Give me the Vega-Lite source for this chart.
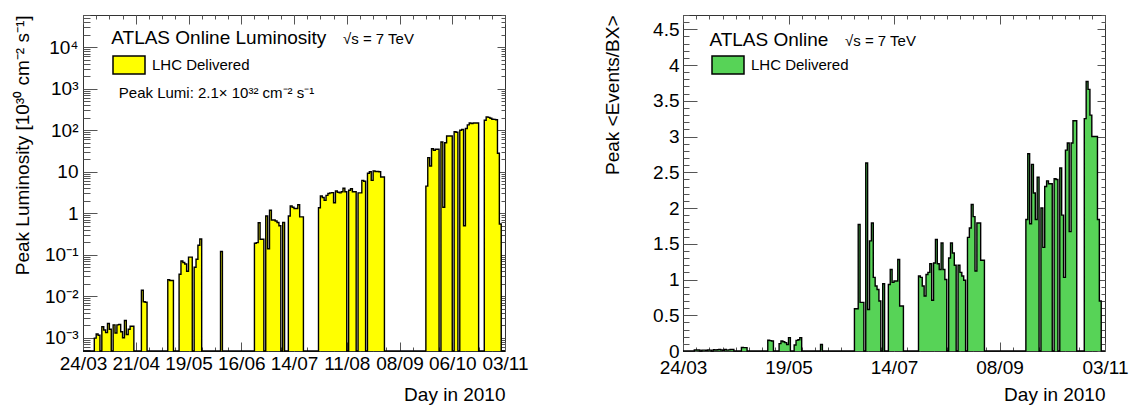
{
  "$schema": "https://vega.github.io/schema/vega-lite/v6.json",
  "padding": {"left": 13, "top": 14, "right": 0, "bottom": 0},
  "background": "white",
  "config": {
    "view": {"stroke": "#333", "strokeWidth": 1},
    "font": "Liberation Sans",
    "axis": {"domain": false, "grid": false, "tickColor": "#555", "tickWidth": 1, "labelFont": "Liberation Sans", "labelFontSize": 19, "labelColor": "#000", "titleFont": "Liberation Sans", "titleFontSize": 19, "titleFontWeight": "normal", "titleColor": "#000", "labelFlush": false, "labelOverlap": false}
  },
  "resolve": {"scale": {"fill": "independent"}, "legend": {"fill": "independent"}},
  "spacing": 74,
  "datasets": {
    "days": [
      {"date": "2010-03-24", "lumi": 0, "mu": 0},
      {"date": "2010-03-30", "lumi": 0.00098, "mu": 0.014},
      {"date": "2010-03-31", "lumi": 0.00123, "mu": 0.015},
      {"date": "2010-04-01", "lumi": 0.00115, "mu": 0.014},
      {"date": "2010-04-02", "lumi": 0, "mu": 0},
      {"date": "2010-04-03", "lumi": 0.00185, "mu": 0.012},
      {"date": "2010-04-04", "lumi": 0.00154, "mu": 0.012},
      {"date": "2010-04-05", "lumi": 0.00133, "mu": 0.01},
      {"date": "2010-04-06", "lumi": 0.0022, "mu": 0.014},
      {"date": "2010-04-07", "lumi": 0.0016, "mu": 0.012},
      {"date": "2010-04-08", "lumi": 0, "mu": 0},
      {"date": "2010-04-09", "lumi": 0.00205, "mu": 0.018},
      {"date": "2010-04-10", "lumi": 0.0013, "mu": 0.012},
      {"date": "2010-04-11", "lumi": 0.00205, "mu": 0.018},
      {"date": "2010-04-12", "lumi": 0.0021, "mu": 0.02},
      {"date": "2010-04-13", "lumi": 0.0014, "mu": 0.014},
      {"date": "2010-04-14", "lumi": 0.001, "mu": 0.01},
      {"date": "2010-04-15", "lumi": 0.0026, "mu": 0.022},
      {"date": "2010-04-16", "lumi": 0.0012, "mu": 0.012},
      {"date": "2010-04-17", "lumi": 0.0016, "mu": 0.016},
      {"date": "2010-04-18", "lumi": 0.0019, "mu": 0.02},
      {"date": "2010-04-19", "lumi": 0.0019, "mu": 0.02},
      {"date": "2010-04-20", "lumi": 0, "mu": 0},
      {"date": "2010-04-24", "lumi": 0.014, "mu": 0.05},
      {"date": "2010-04-25", "lumi": 0.0074, "mu": 0.047},
      {"date": "2010-04-26", "lumi": 0.0072, "mu": 0.047},
      {"date": "2010-04-27", "lumi": 0, "mu": 0},
      {"date": "2010-05-08", "lumi": 0.025, "mu": 0.15},
      {"date": "2010-05-09", "lumi": 0.024, "mu": 0.145},
      {"date": "2010-05-10", "lumi": 0.024, "mu": 0.14},
      {"date": "2010-05-11", "lumi": 0, "mu": 0},
      {"date": "2010-05-14", "lumi": 0.034, "mu": 0.103},
      {"date": "2010-05-15", "lumi": 0.071, "mu": 0.14},
      {"date": "2010-05-16", "lumi": 0.065, "mu": 0.13},
      {"date": "2010-05-17", "lumi": 0.06, "mu": 0.117},
      {"date": "2010-05-18", "lumi": 0.04, "mu": 0.09},
      {"date": "2010-05-19", "lumi": 0.088, "mu": 0.187},
      {"date": "2010-05-20", "lumi": 0.088, "mu": 0},
      {"date": "2010-05-21", "lumi": 0, "mu": 0},
      {"date": "2010-05-22", "lumi": 0.05, "mu": 0.084},
      {"date": "2010-05-23", "lumi": 0.078, "mu": 0.149},
      {"date": "2010-05-24", "lumi": 0.17, "mu": 0.158},
      {"date": "2010-05-25", "lumi": 0.24, "mu": 0.187},
      {"date": "2010-05-26", "lumi": 0, "mu": 0},
      {"date": "2010-06-05", "lumi": 0.12, "mu": 0.09},
      {"date": "2010-06-06", "lumi": 0, "mu": 0},
      {"date": "2010-06-23", "lumi": 0.19, "mu": 0.59},
      {"date": "2010-06-24", "lumi": 0.196, "mu": 0.59},
      {"date": "2010-06-25", "lumi": 0.59, "mu": 1.77},
      {"date": "2010-06-26", "lumi": 0.236, "mu": 0.68},
      {"date": "2010-06-27", "lumi": 0.236, "mu": 0.68},
      {"date": "2010-06-28", "lumi": 0, "mu": 0},
      {"date": "2010-06-29", "lumi": 0.86, "mu": 2.63},
      {"date": "2010-06-30", "lumi": 0.14, "mu": 0.58},
      {"date": "2010-07-01", "lumi": 1.18, "mu": 1.54},
      {"date": "2010-07-02", "lumi": 0.69, "mu": 1.79},
      {"date": "2010-07-03", "lumi": 0.69, "mu": 1.03},
      {"date": "2010-07-04", "lumi": 0.65, "mu": 0.91},
      {"date": "2010-07-05", "lumi": 0.6, "mu": 0.86},
      {"date": "2010-07-06", "lumi": 0.5, "mu": 0.7},
      {"date": "2010-07-07", "lumi": 0, "mu": 0},
      {"date": "2010-07-08", "lumi": 0.6, "mu": 0.94},
      {"date": "2010-07-09", "lumi": 0, "mu": 0},
      {"date": "2010-07-11", "lumi": 0.86, "mu": 0.93},
      {"date": "2010-07-12", "lumi": 1.5, "mu": 1.14},
      {"date": "2010-07-13", "lumi": 1.4, "mu": 0.96},
      {"date": "2010-07-14", "lumi": 1.3, "mu": 0.98},
      {"date": "2010-07-15", "lumi": 1.3, "mu": 0.98},
      {"date": "2010-07-16", "lumi": 1.6, "mu": 1.28},
      {"date": "2010-07-17", "lumi": 0.82, "mu": 0.63},
      {"date": "2010-07-18", "lumi": 0.82, "mu": 0.63},
      {"date": "2010-07-19", "lumi": 0, "mu": 0},
      {"date": "2010-07-27", "lumi": 1.36, "mu": 1.05},
      {"date": "2010-07-28", "lumi": 2.6, "mu": 1.03},
      {"date": "2010-07-29", "lumi": 2.4, "mu": 0.91},
      {"date": "2010-07-30", "lumi": 2.05, "mu": 0.77},
      {"date": "2010-07-31", "lumi": 2.7, "mu": 1.07},
      {"date": "2010-08-01", "lumi": 3.0, "mu": 1.1},
      {"date": "2010-08-02", "lumi": 3.1, "mu": 1.22},
      {"date": "2010-08-03", "lumi": 3.14, "mu": 0.71},
      {"date": "2010-08-04", "lumi": 1.8, "mu": 1.23},
      {"date": "2010-08-05", "lumi": 3.45, "mu": 1.56},
      {"date": "2010-08-06", "lumi": 3.2, "mu": 1.22},
      {"date": "2010-08-07", "lumi": 3.1, "mu": 1.14},
      {"date": "2010-08-08", "lumi": 3.3, "mu": 1.51},
      {"date": "2010-08-09", "lumi": 4.0, "mu": 1.14},
      {"date": "2010-08-10", "lumi": 3.3, "mu": 1.0},
      {"date": "2010-08-11", "lumi": 0, "mu": 0},
      {"date": "2010-08-12", "lumi": 3.6, "mu": 1.3},
      {"date": "2010-08-13", "lumi": 3.9, "mu": 1.51},
      {"date": "2010-08-14", "lumi": 3.3, "mu": 1.37},
      {"date": "2010-08-15", "lumi": 3.3, "mu": 1.2},
      {"date": "2010-08-16", "lumi": 0, "mu": 0},
      {"date": "2010-08-17", "lumi": 3.1, "mu": 1.2},
      {"date": "2010-08-18", "lumi": 3.1, "mu": 1.1},
      {"date": "2010-08-19", "lumi": 6.2, "mu": 1.05},
      {"date": "2010-08-20", "lumi": 5.9, "mu": 0.99},
      {"date": "2010-08-21", "lumi": 0, "mu": 0},
      {"date": "2010-08-22", "lumi": 9.2, "mu": 1.59},
      {"date": "2010-08-23", "lumi": 10, "mu": 1.72},
      {"date": "2010-08-24", "lumi": 6.2, "mu": 2.05},
      {"date": "2010-08-25", "lumi": 10.5, "mu": 1.88},
      {"date": "2010-08-26", "lumi": 10.2, "mu": 1.12},
      {"date": "2010-08-27", "lumi": 10.2, "mu": 1.79},
      {"date": "2010-08-28", "lumi": 10, "mu": 1.79},
      {"date": "2010-08-29", "lumi": 7.5, "mu": 1.27},
      {"date": "2010-08-30", "lumi": 7.5, "mu": 1.27},
      {"date": "2010-08-31", "lumi": 0, "mu": 0},
      {"date": "2010-09-22", "lumi": 4.5, "mu": 1.84},
      {"date": "2010-09-23", "lumi": 21.9, "mu": 2.76},
      {"date": "2010-09-24", "lumi": 13.8, "mu": 1.78},
      {"date": "2010-09-25", "lumi": 36, "mu": 2.61},
      {"date": "2010-09-26", "lumi": 33, "mu": 2.21},
      {"date": "2010-09-27", "lumi": 35, "mu": 1.84},
      {"date": "2010-09-28", "lumi": 35, "mu": 2.43},
      {"date": "2010-09-29", "lumi": 0, "mu": 0},
      {"date": "2010-09-30", "lumi": 52, "mu": 2.0},
      {"date": "2010-10-01", "lumi": 1.4, "mu": 1.45},
      {"date": "2010-10-02", "lumi": 50, "mu": 2.3},
      {"date": "2010-10-03", "lumi": 73, "mu": 2.38},
      {"date": "2010-10-04", "lumi": 73, "mu": 2.34},
      {"date": "2010-10-05", "lumi": 73, "mu": 2.34},
      {"date": "2010-10-06", "lumi": 0, "mu": 0},
      {"date": "2010-10-07", "lumi": 92, "mu": 2.41},
      {"date": "2010-10-08", "lumi": 90, "mu": 2.4},
      {"date": "2010-10-09", "lumi": 0, "mu": 0},
      {"date": "2010-10-10", "lumi": 100, "mu": 2.56},
      {"date": "2010-10-11", "lumi": 105, "mu": 1.9},
      {"date": "2010-10-12", "lumi": 0.5, "mu": 1.03},
      {"date": "2010-10-13", "lumi": 110, "mu": 2.81},
      {"date": "2010-10-14", "lumi": 135, "mu": 2.91},
      {"date": "2010-10-15", "lumi": 150, "mu": 1.67},
      {"date": "2010-10-16", "lumi": 145, "mu": 2.91},
      {"date": "2010-10-17", "lumi": 150, "mu": 3.22},
      {"date": "2010-10-18", "lumi": 150, "mu": 3.22},
      {"date": "2010-10-19", "lumi": 150, "mu": 0},
      {"date": "2010-10-20", "lumi": 0, "mu": 0},
      {"date": "2010-10-23", "lumi": 175, "mu": 3.25},
      {"date": "2010-10-24", "lumi": 210, "mu": 3.77},
      {"date": "2010-10-25", "lumi": 205, "mu": 3.66},
      {"date": "2010-10-26", "lumi": 195, "mu": 3.3},
      {"date": "2010-10-27", "lumi": 185, "mu": 3.0},
      {"date": "2010-10-28", "lumi": 183, "mu": 3.0},
      {"date": "2010-10-29", "lumi": 180, "mu": 3.0},
      {"date": "2010-10-30", "lumi": 28, "mu": 1.84},
      {"date": "2010-10-31", "lumi": 0.55, "mu": 0.7},
      {"date": "2010-11-01", "lumi": 0, "mu": 0},
      {"date": "2010-11-03", "lumi": 0, "mu": 0}
    ]
  },
  "hconcat": [
    {
      "width": 422,
      "height": 336,
      "data": {"name": "days"},
      "resolve": {"axis": {"x": "independent", "y": "independent"}},
      "layer": [
        {
          "mark": {"type": "area", "interpolate": "step-after"},
          "encoding": {
            "x": {"field": "date", "type": "temporal",
              "scale": {"type": "utc", "nice": false, "domain": [{"year": 2010, "month": 3, "date": 24, "utc": true}, {"year": 2010, "month": 11, "date": 3, "utc": true}]},
              "axis": {"orient": "bottom", "format": "%d/%m", "tickSize": -9, "labelPadding": 12, "title": "Day in 2010", "titleAnchor": "end", "titlePadding": 12,
                "values": [{"year": 2010, "month": 3, "date": 24, "utc": true}, {"year": 2010, "month": 4, "date": 21, "utc": true}, {"year": 2010, "month": 5, "date": 19, "utc": true}, {"year": 2010, "month": 6, "date": 16, "utc": true}, {"year": 2010, "month": 7, "date": 14, "utc": true}, {"year": 2010, "month": 8, "date": 11, "utc": true}, {"year": 2010, "month": 9, "date": 8, "utc": true}, {"year": 2010, "month": 10, "date": 6, "utc": true}, {"year": 2010, "month": 11, "date": 3, "utc": true}]}},
            "y": {"field": "lumi", "type": "quantitative",
              "scale": {"type": "log", "domain": [0.00048, 60000], "clamp": true, "nice": false},
              "axis": {"orient": "left", "tickSize": -14, "labelPadding": 19, "title": "Peak Luminosity [10³⁰ cm⁻² s⁻¹]", "titleAnchor": "end", "titlePadding": 12,
                "values": [0.001, 0.01, 0.1, 1, 10, 100, 1000, 10000],
                "labelExpr": "datum.value >= 9999 ? '10⁴' : datum.value >= 999 ? '10³' : datum.value >= 99 ? '10²' : datum.value >= 9 ? '10' : datum.value >= 0.9 ? '1' : datum.value >= 0.09 ? '10⁻¹' : datum.value >= 0.009 ? '10⁻²' : '10⁻³'"}},
            "fill": {"datum": "LHC Delivered", "type": "nominal", "scale": {"range": ["#ffff00"]},
              "legend": {"orient": "none", "legendX": 29, "legendY": 33, "title": null, "symbolType": "M-1,-0.5625H1V0.5625H-1Z", "symbolSize": 1024, "symbolStrokeColor": "#000", "symbolStrokeWidth": 1.5, "symbolOpacity": 1, "labelFont": "Liberation Sans", "labelFontSize": 15, "labelColor": "#000", "labelOffset": 6}}
          }
        },
        {
          "mark": {"type": "line", "interpolate": "step-after", "color": "#000", "strokeWidth": 1.4},
          "encoding": {
            "x": {"field": "date", "type": "temporal",
              "axis": {"orient": "top", "labels": false, "title": null, "tickSize": -9,
                "values": [{"year": 2010, "month": 3, "date": 24, "utc": true}, {"year": 2010, "month": 4, "date": 21, "utc": true}, {"year": 2010, "month": 5, "date": 19, "utc": true}, {"year": 2010, "month": 6, "date": 16, "utc": true}, {"year": 2010, "month": 7, "date": 14, "utc": true}, {"year": 2010, "month": 8, "date": 11, "utc": true}, {"year": 2010, "month": 9, "date": 8, "utc": true}, {"year": 2010, "month": 10, "date": 6, "utc": true}, {"year": 2010, "month": 11, "date": 3, "utc": true}]}},
            "y": {"field": "lumi", "type": "quantitative",
              "axis": {"orient": "right", "labels": false, "title": null, "tickSize": -8, "values": [0.001, 0.01, 0.1, 1, 10, 100, 1000, 10000]}}
          }
        },
        {
          "mark": {"type": "point", "opacity": 0},
          "encoding": {
            "x": {"field": "date", "type": "temporal",
              "axis": {"orient": "bottom", "labels": false, "title": null, "tickSize": -4,
                "values": [{"year": 2010, "month": 3, "date": 24, "utc": true}, {"year": 2010, "month": 3, "date": 31, "utc": true}, {"year": 2010, "month": 4, "date": 7, "utc": true}, {"year": 2010, "month": 4, "date": 14, "utc": true}, {"year": 2010, "month": 4, "date": 21, "utc": true}, {"year": 2010, "month": 4, "date": 28, "utc": true}, {"year": 2010, "month": 5, "date": 5, "utc": true}, {"year": 2010, "month": 5, "date": 12, "utc": true}, {"year": 2010, "month": 5, "date": 19, "utc": true}, {"year": 2010, "month": 5, "date": 26, "utc": true}, {"year": 2010, "month": 6, "date": 2, "utc": true}, {"year": 2010, "month": 6, "date": 9, "utc": true}, {"year": 2010, "month": 6, "date": 16, "utc": true}, {"year": 2010, "month": 6, "date": 23, "utc": true}, {"year": 2010, "month": 6, "date": 30, "utc": true}, {"year": 2010, "month": 7, "date": 7, "utc": true}, {"year": 2010, "month": 7, "date": 14, "utc": true}, {"year": 2010, "month": 7, "date": 21, "utc": true}, {"year": 2010, "month": 7, "date": 28, "utc": true}, {"year": 2010, "month": 8, "date": 4, "utc": true}, {"year": 2010, "month": 8, "date": 11, "utc": true}, {"year": 2010, "month": 8, "date": 18, "utc": true}, {"year": 2010, "month": 8, "date": 25, "utc": true}, {"year": 2010, "month": 9, "date": 1, "utc": true}, {"year": 2010, "month": 9, "date": 8, "utc": true}, {"year": 2010, "month": 9, "date": 15, "utc": true}, {"year": 2010, "month": 9, "date": 22, "utc": true}, {"year": 2010, "month": 9, "date": 29, "utc": true}, {"year": 2010, "month": 10, "date": 6, "utc": true}, {"year": 2010, "month": 10, "date": 13, "utc": true}, {"year": 2010, "month": 10, "date": 20, "utc": true}, {"year": 2010, "month": 10, "date": 27, "utc": true}, {"year": 2010, "month": 11, "date": 3, "utc": true}]}},
            "y": {"field": "lumi", "type": "quantitative",
              "axis": {"orient": "left", "labels": false, "title": null, "tickSize": -7,
                "values": [0.0005, 0.0006, 0.0007, 0.0008, 0.0009, 0.002, 0.003, 0.004, 0.005, 0.006, 0.007, 0.008, 0.009, 0.02, 0.03, 0.04, 0.05, 0.06, 0.07, 0.08, 0.09, 0.2, 0.3, 0.4, 0.5, 0.6, 0.7, 0.8, 0.9, 2, 3, 4, 5, 6, 7, 8, 9, 20, 30, 40, 50, 60, 70, 80, 90, 200, 300, 400, 500, 600, 700, 800, 900, 2000, 3000, 4000, 5000, 6000, 7000, 8000, 9000, 20000, 30000, 40000, 50000, 60000]}}
          }
        },
        {
          "mark": {"type": "point", "opacity": 0},
          "encoding": {
            "x": {"field": "date", "type": "temporal",
              "axis": {"orient": "top", "labels": false, "title": null, "tickSize": -4,
                "values": [{"year": 2010, "month": 3, "date": 24, "utc": true}, {"year": 2010, "month": 3, "date": 31, "utc": true}, {"year": 2010, "month": 4, "date": 7, "utc": true}, {"year": 2010, "month": 4, "date": 14, "utc": true}, {"year": 2010, "month": 4, "date": 21, "utc": true}, {"year": 2010, "month": 4, "date": 28, "utc": true}, {"year": 2010, "month": 5, "date": 5, "utc": true}, {"year": 2010, "month": 5, "date": 12, "utc": true}, {"year": 2010, "month": 5, "date": 19, "utc": true}, {"year": 2010, "month": 5, "date": 26, "utc": true}, {"year": 2010, "month": 6, "date": 2, "utc": true}, {"year": 2010, "month": 6, "date": 9, "utc": true}, {"year": 2010, "month": 6, "date": 16, "utc": true}, {"year": 2010, "month": 6, "date": 23, "utc": true}, {"year": 2010, "month": 6, "date": 30, "utc": true}, {"year": 2010, "month": 7, "date": 7, "utc": true}, {"year": 2010, "month": 7, "date": 14, "utc": true}, {"year": 2010, "month": 7, "date": 21, "utc": true}, {"year": 2010, "month": 7, "date": 28, "utc": true}, {"year": 2010, "month": 8, "date": 4, "utc": true}, {"year": 2010, "month": 8, "date": 11, "utc": true}, {"year": 2010, "month": 8, "date": 18, "utc": true}, {"year": 2010, "month": 8, "date": 25, "utc": true}, {"year": 2010, "month": 9, "date": 1, "utc": true}, {"year": 2010, "month": 9, "date": 8, "utc": true}, {"year": 2010, "month": 9, "date": 15, "utc": true}, {"year": 2010, "month": 9, "date": 22, "utc": true}, {"year": 2010, "month": 9, "date": 29, "utc": true}, {"year": 2010, "month": 10, "date": 6, "utc": true}, {"year": 2010, "month": 10, "date": 13, "utc": true}, {"year": 2010, "month": 10, "date": 20, "utc": true}, {"year": 2010, "month": 10, "date": 27, "utc": true}, {"year": 2010, "month": 11, "date": 3, "utc": true}]}},
            "y": {"field": "lumi", "type": "quantitative",
              "axis": {"orient": "right", "labels": false, "title": null, "tickSize": -4,
                "values": [0.0005, 0.0006, 0.0007, 0.0008, 0.0009, 0.002, 0.003, 0.004, 0.005, 0.006, 0.007, 0.008, 0.009, 0.02, 0.03, 0.04, 0.05, 0.06, 0.07, 0.08, 0.09, 0.2, 0.3, 0.4, 0.5, 0.6, 0.7, 0.8, 0.9, 2, 3, 4, 5, 6, 7, 8, 9, 20, 30, 40, 50, 60, 70, 80, 90, 200, 300, 400, 500, 600, 700, 800, 900, 2000, 3000, 4000, 5000, 6000, 7000, 8000, 9000, 20000, 30000, 40000, 50000, 60000]}}
          }
        },
        {
          "data": {"values": [{}]},
          "mark": {"type": "text", "align": "left", "baseline": "alphabetic", "font": "Liberation Sans", "fontSize": 19, "color": "#000", "text": "ATLAS Online Luminosity"},
          "encoding": {
            "x": {"datum": {"year": 2010, "month": 4, "date": 8, "utc": true}, "type": "temporal", "axis": null},
            "y": {"datum": 12200, "type": "quantitative", "axis": null}
          }
        },
        {
          "data": {"values": [{}]},
          "mark": {"type": "text", "align": "left", "baseline": "alphabetic", "font": "Liberation Sans", "fontSize": 15, "color": "#000", "text": "√s = 7 TeV"},
          "encoding": {
            "x": {"datum": {"year": 2010, "month": 8, "date": 9, "utc": true}, "type": "temporal", "axis": null},
            "y": {"datum": 12200, "type": "quantitative", "axis": null}
          }
        },
        {
          "data": {"values": [{}]},
          "mark": {"type": "text", "align": "left", "baseline": "alphabetic", "font": "Liberation Sans", "fontSize": 15, "color": "#000", "text": "Peak Lumi: 2.1× 10³² cm⁻² s⁻¹"},
          "encoding": {
            "x": {"datum": {"year": 2010, "month": 4, "date": 12, "utc": true}, "type": "temporal", "axis": null},
            "y": {"datum": 600, "type": "quantitative", "axis": null}
          }
        }
      ]
    },
    {
      "width": 422,
      "height": 336,
      "data": {"name": "days"},
      "resolve": {"axis": {"x": "independent", "y": "independent"}},
      "layer": [
        {
          "mark": {"type": "area", "interpolate": "step-after"},
          "encoding": {
            "x": {"field": "date", "type": "temporal",
              "scale": {"type": "utc", "nice": false, "domain": [{"year": 2010, "month": 3, "date": 24, "utc": true}, {"year": 2010, "month": 11, "date": 3, "utc": true}]},
              "axis": {"orient": "bottom", "format": "%d/%m", "tickSize": -9, "labelPadding": 16, "title": "Day in 2010", "titleAnchor": "end", "titlePadding": 8,
                "values": [{"year": 2010, "month": 3, "date": 24, "utc": true}, {"year": 2010, "month": 5, "date": 19, "utc": true}, {"year": 2010, "month": 7, "date": 14, "utc": true}, {"year": 2010, "month": 9, "date": 8, "utc": true}, {"year": 2010, "month": 11, "date": 3, "utc": true}]}},
            "y": {"field": "mu", "type": "quantitative",
              "scale": {"domain": [0, 4.7], "nice": false},
              "axis": {"orient": "left", "tickSize": -14, "labelPadding": 18, "format": "~g", "title": "Peak <Events/BX>", "titleAnchor": "end", "titlePadding": 30,
                "values": [0, 0.5, 1, 1.5, 2, 2.5, 3, 3.5, 4, 4.5]}},
            "fill": {"datum": "LHC Delivered", "type": "nominal", "scale": {"range": ["#57d357"]},
              "legend": {"orient": "none", "legendX": 28, "legendY": 33, "title": null, "symbolType": "M-1,-0.5625H1V0.5625H-1Z", "symbolSize": 1024, "symbolStrokeColor": "#000", "symbolStrokeWidth": 1.5, "symbolOpacity": 1, "labelFont": "Liberation Sans", "labelFontSize": 15, "labelColor": "#000", "labelOffset": 6}}
          }
        },
        {
          "mark": {"type": "line", "interpolate": "step-after", "color": "#000", "strokeWidth": 1.4},
          "encoding": {
            "x": {"field": "date", "type": "temporal",
              "axis": {"orient": "top", "labels": false, "title": null, "tickSize": -9,
                "values": [{"year": 2010, "month": 3, "date": 24, "utc": true}, {"year": 2010, "month": 5, "date": 19, "utc": true}, {"year": 2010, "month": 7, "date": 14, "utc": true}, {"year": 2010, "month": 9, "date": 8, "utc": true}, {"year": 2010, "month": 11, "date": 3, "utc": true}]}},
            "y": {"field": "mu", "type": "quantitative",
              "axis": {"orient": "right", "labels": false, "title": null, "tickSize": -8, "values": [0, 0.5, 1, 1.5, 2, 2.5, 3, 3.5, 4, 4.5]}}
          }
        },
        {
          "mark": {"type": "point", "opacity": 0},
          "encoding": {
            "x": {"field": "date", "type": "temporal",
              "axis": {"orient": "bottom", "labels": false, "title": null, "tickSize": -4,
                "values": [{"year": 2010, "month": 3, "date": 24, "utc": true}, {"year": 2010, "month": 3, "date": 31, "utc": true}, {"year": 2010, "month": 4, "date": 7, "utc": true}, {"year": 2010, "month": 4, "date": 14, "utc": true}, {"year": 2010, "month": 4, "date": 21, "utc": true}, {"year": 2010, "month": 4, "date": 28, "utc": true}, {"year": 2010, "month": 5, "date": 5, "utc": true}, {"year": 2010, "month": 5, "date": 12, "utc": true}, {"year": 2010, "month": 5, "date": 19, "utc": true}, {"year": 2010, "month": 5, "date": 26, "utc": true}, {"year": 2010, "month": 6, "date": 2, "utc": true}, {"year": 2010, "month": 6, "date": 9, "utc": true}, {"year": 2010, "month": 6, "date": 16, "utc": true}, {"year": 2010, "month": 6, "date": 23, "utc": true}, {"year": 2010, "month": 6, "date": 30, "utc": true}, {"year": 2010, "month": 7, "date": 7, "utc": true}, {"year": 2010, "month": 7, "date": 14, "utc": true}, {"year": 2010, "month": 7, "date": 21, "utc": true}, {"year": 2010, "month": 7, "date": 28, "utc": true}, {"year": 2010, "month": 8, "date": 4, "utc": true}, {"year": 2010, "month": 8, "date": 11, "utc": true}, {"year": 2010, "month": 8, "date": 18, "utc": true}, {"year": 2010, "month": 8, "date": 25, "utc": true}, {"year": 2010, "month": 9, "date": 1, "utc": true}, {"year": 2010, "month": 9, "date": 8, "utc": true}, {"year": 2010, "month": 9, "date": 15, "utc": true}, {"year": 2010, "month": 9, "date": 22, "utc": true}, {"year": 2010, "month": 9, "date": 29, "utc": true}, {"year": 2010, "month": 10, "date": 6, "utc": true}, {"year": 2010, "month": 10, "date": 13, "utc": true}, {"year": 2010, "month": 10, "date": 20, "utc": true}, {"year": 2010, "month": 10, "date": 27, "utc": true}, {"year": 2010, "month": 11, "date": 3, "utc": true}]}},
            "y": {"field": "mu", "type": "quantitative",
              "axis": {"orient": "left", "labels": false, "title": null, "tickSize": -6,
                "values": [0.1, 0.2, 0.3, 0.4, 0.6, 0.7, 0.8, 0.9, 1.1, 1.2, 1.3, 1.4, 1.6, 1.7, 1.8, 1.9, 2.1, 2.2, 2.3, 2.4, 2.6, 2.7, 2.8, 2.9, 3.1, 3.2, 3.3, 3.4, 3.6, 3.7, 3.8, 3.9, 4.1, 4.2, 4.3, 4.4, 4.6, 4.7]}}
          }
        },
        {
          "mark": {"type": "point", "opacity": 0},
          "encoding": {
            "x": {"field": "date", "type": "temporal",
              "axis": {"orient": "top", "labels": false, "title": null, "tickSize": -4,
                "values": [{"year": 2010, "month": 3, "date": 24, "utc": true}, {"year": 2010, "month": 3, "date": 31, "utc": true}, {"year": 2010, "month": 4, "date": 7, "utc": true}, {"year": 2010, "month": 4, "date": 14, "utc": true}, {"year": 2010, "month": 4, "date": 21, "utc": true}, {"year": 2010, "month": 4, "date": 28, "utc": true}, {"year": 2010, "month": 5, "date": 5, "utc": true}, {"year": 2010, "month": 5, "date": 12, "utc": true}, {"year": 2010, "month": 5, "date": 19, "utc": true}, {"year": 2010, "month": 5, "date": 26, "utc": true}, {"year": 2010, "month": 6, "date": 2, "utc": true}, {"year": 2010, "month": 6, "date": 9, "utc": true}, {"year": 2010, "month": 6, "date": 16, "utc": true}, {"year": 2010, "month": 6, "date": 23, "utc": true}, {"year": 2010, "month": 6, "date": 30, "utc": true}, {"year": 2010, "month": 7, "date": 7, "utc": true}, {"year": 2010, "month": 7, "date": 14, "utc": true}, {"year": 2010, "month": 7, "date": 21, "utc": true}, {"year": 2010, "month": 7, "date": 28, "utc": true}, {"year": 2010, "month": 8, "date": 4, "utc": true}, {"year": 2010, "month": 8, "date": 11, "utc": true}, {"year": 2010, "month": 8, "date": 18, "utc": true}, {"year": 2010, "month": 8, "date": 25, "utc": true}, {"year": 2010, "month": 9, "date": 1, "utc": true}, {"year": 2010, "month": 9, "date": 8, "utc": true}, {"year": 2010, "month": 9, "date": 15, "utc": true}, {"year": 2010, "month": 9, "date": 22, "utc": true}, {"year": 2010, "month": 9, "date": 29, "utc": true}, {"year": 2010, "month": 10, "date": 6, "utc": true}, {"year": 2010, "month": 10, "date": 13, "utc": true}, {"year": 2010, "month": 10, "date": 20, "utc": true}, {"year": 2010, "month": 10, "date": 27, "utc": true}, {"year": 2010, "month": 11, "date": 3, "utc": true}]}},
            "y": {"field": "mu", "type": "quantitative",
              "axis": {"orient": "right", "labels": false, "title": null, "tickSize": -4,
                "values": [0.1, 0.2, 0.3, 0.4, 0.6, 0.7, 0.8, 0.9, 1.1, 1.2, 1.3, 1.4, 1.6, 1.7, 1.8, 1.9, 2.1, 2.2, 2.3, 2.4, 2.6, 2.7, 2.8, 2.9, 3.1, 3.2, 3.3, 3.4, 3.6, 3.7, 3.8, 3.9, 4.1, 4.2, 4.3, 4.4, 4.6, 4.7]}}
          }
        },
        {
          "data": {"values": [{}]},
          "mark": {"type": "text", "align": "left", "baseline": "alphabetic", "font": "Liberation Sans", "fontSize": 19, "color": "#000", "text": "ATLAS Online"},
          "encoding": {
            "x": {"datum": {"year": 2010, "month": 4, "date": 7, "utc": true}, "type": "temporal", "axis": null},
            "y": {"datum": 4.27, "type": "quantitative", "axis": null}
          }
        },
        {
          "data": {"values": [{}]},
          "mark": {"type": "text", "align": "left", "baseline": "alphabetic", "font": "Liberation Sans", "fontSize": 15, "color": "#000", "text": "√s = 7 TeV"},
          "encoding": {
            "x": {"datum": {"year": 2010, "month": 6, "date": 18, "utc": true}, "type": "temporal", "axis": null},
            "y": {"datum": 4.27, "type": "quantitative", "axis": null}
          }
        }
      ]
    }
  ]
}
